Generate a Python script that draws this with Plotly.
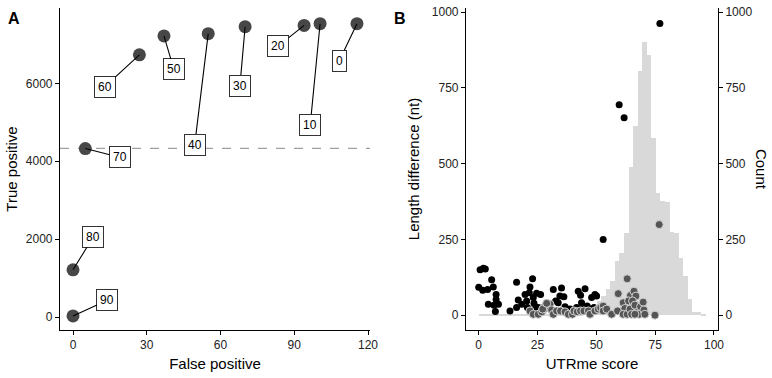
import plotly.graph_objects as go

# ---------------- Panel A data ----------------
thresholds = [90, 80, 70, 60, 50, 40, 30, 20, 10, 0]
false_pos = [0, 0, 5, 27, 37, 55, 70, 94, 100.5, 115.5]
true_pos = [30, 1215, 4326, 6731, 7215, 7274, 7452, 7485, 7529, 7529]
label_fp = [14, 8.3, 19.2, 13, 41, 49.5, 67.9, 83.5, 96.5, 108.3]
label_tp = [433, 2064, 4097, 5916, 6364, 4428, 5940, 6960, 4938, 6578]
reference_tp = 4330
a_xticks = [0, 30, 60, 90, 120]
a_yticks = [0, 2000, 4000, 6000]

# ---------------- Panel B data ----------------
hist_centers = [0.90, 2.83, 4.76, 6.70, 8.63, 10.56, 12.49, 14.42, 16.36, 18.29,
                20.22, 22.15, 24.08, 26.02, 27.95, 29.88, 31.81, 33.74, 35.68, 37.61,
                39.54, 41.47, 43.40, 45.34, 47.27, 49.20, 51.13, 53.07, 55.00, 56.93,
                58.86, 60.79, 62.73, 64.66, 66.59, 68.52, 70.45, 72.39, 74.32, 76.25,
                78.18, 80.11, 82.05, 83.98, 85.91, 87.84, 89.77, 91.71, 93.64, 95.57]
hist_counts = [4, 4, 3, 4, 3, 4, 3, 4, 4, 3,
               4, 4, 5, 4, 4, 5, 4, 5, 5, 5,
               6, 6, 6, 7, 8, 9, 46, 62, 88, 114,
               180, 205, 270, 489, 626, 807, 902, 860, 584, 404,
               378, 372, 274, 270, 189, 128, 52, 9, 9, 3]
hist_binwidth = 1.95

black_score = [0, 0.6, 2.0, 2.8, 1.7, 3.8, 6.2, 5.5, 7.4, 4.1, 6.5, 8.4, 7.1, 7.4,
               13.3, 16.1, 16.8, 16.1, 18.3, 19.7, 20.4, 21.5, 22.9, 21.8, 23.2, 20.7,
               24.6, 26.3, 23.5, 24.3, 22.1, 25.3, 27.0, 31.7, 32.7, 35.2, 34.5, 36.2,
               33.8, 36.7, 38.8, 42.3, 43.3, 45.2, 43.7, 41.6, 44.4, 46.1, 48.0, 49.4,
               50.1, 47.3, 49.0, 52.9, 59.7, 61.8, 77.0]
black_len = [92, 150, 155, 152, 82, 85, 93, 117, 68, 36, 33, 36, 12, 52,
             14, 109, 50, 25, 36, 68, 47, 74, 120, 93, 58, 25,
             72, 68, 39, 25, 17, 25, 24, 85, 47, 90, 63, 61,
             41, 28, 20, 79, 66, 87, 41, 25, 25, 30, 58, 68,
             63, 20, 25, 250, 695, 652, 963]

gray_score = [21.8, 23.2, 25.3, 26.8, 28.2, 29.2, 30.3, 31.0, 31.7, 33.1, 34.8, 36.7,
              38.1, 39.8, 40.5, 41.9, 43.3, 44.7, 46.6, 47.3, 49.4, 50.8, 51.8, 52.9,
              52.9, 54.4, 56.5, 59.3, 59.0, 61.4, 62.1, 63.1, 61.4, 63.1, 64.5, 63.7,
              64.3, 65.0, 66.0, 66.8, 65.4, 66.4, 67.4, 68.2, 68.8, 69.9, 70.2, 70.6,
              74.9, 76.7, 66.4, 27.2, 28.9]
gray_len = [14, 3, 3, 11, 22, 30, 36, 17, 3, 14, 14, 11,
            3, 3, 14, 11, 14, 14, 14, 3, 14, 20, 25, 30,
            14, 20, 3, 71, 14, 41, 22, 120, 3, 3, 65, 47,
            20, 3, 79, 63, 47, 33, 9, 3, 28, 43, 17, 3,
            0, 299, 3, 20, 39]
b_xticks = [0, 25, 50, 75, 100]
b_yticks = [0, 250, 500, 750, 1000]

FONT = "Liberation Sans, Arial, sans-serif"
TICKC = "#222222"

fig = go.Figure()

# Panel A points
fig.add_trace(go.Scatter(
    x=false_pos, y=true_pos, mode="markers",
    marker=dict(size=13, color="#474747"),
    xaxis="x", yaxis="y", showlegend=False, hoverinfo="skip"))

# Panel B histogram (base axis y2 = Count, right)
fig.add_trace(go.Bar(
    x=hist_centers, y=hist_counts, width=hist_binwidth,
    marker=dict(color="#d9d9d9", line=dict(width=0)),
    xaxis="x2", yaxis="y2", showlegend=False, hoverinfo="skip"))

# Panel B scatter (overlay axis y3 = Length difference, left)
fig.add_trace(go.Scatter(
    x=black_score, y=black_len, mode="markers",
    marker=dict(size=7, color="#000000"),
    xaxis="x2", yaxis="y3", showlegend=False, hoverinfo="skip"))
fig.add_trace(go.Scatter(
    x=gray_score, y=gray_len, mode="markers",
    marker=dict(size=8, color="#555555", line=dict(width=1, color="#d0d0d0")),
    xaxis="x2", yaxis="y3", showlegend=False, hoverinfo="skip"))

annotations = []
for t, fx, ty, lx, ly in zip(thresholds, false_pos, true_pos, label_fp, label_tp):
    annotations.append(dict(
        x=fx, y=ty, xref="x", yref="y", ax=lx, ay=ly, axref="x", ayref="y",
        text=str(t), showarrow=True, arrowhead=0, arrowwidth=1.1, arrowcolor="#000000",
        font=dict(family=FONT, size=12, color="#000000"),
        bgcolor="#ffffff", bordercolor="#333333", borderwidth=1, borderpad=3,
        standoff=0, startstandoff=0))

annotations += [
    dict(text="<b>A</b>", x=-0.07, y=1.0, xref="paper", yref="paper",
         xanchor="center", yanchor="top", showarrow=False,
         font=dict(family=FONT, size=16, color="#000000")),
    dict(text="<b>B</b>", x=0.517, y=1.0, xref="paper", yref="paper",
         xanchor="center", yanchor="top", showarrow=False,
         font=dict(family=FONT, size=16, color="#000000")),
    dict(text="Count", x=1.067, y=0.5, xref="paper", yref="paper",
         xanchor="center", yanchor="middle", showarrow=False, textangle=90,
         font=dict(family=FONT, size=15, color="#000000")),
]

axis_common = dict(showgrid=False, zeroline=False, showline=True, linecolor="#000000",
                   linewidth=1.1, ticks="outside", ticklen=4, tickwidth=1,
                   tickcolor="#000000", tickfont=dict(family=FONT, size=12, color=TICKC))

fig.update_layout(
    width=772, height=378,
    margin=dict(l=60, r=54, t=5, b=48),
    paper_bgcolor="#ffffff", plot_bgcolor="rgba(0,0,0,0)",
    font=dict(family=FONT, size=12, color="#000000"),
    bargap=0,
    xaxis=dict(domain=[0, 0.4711], range=[-5.3, 120.8], tickvals=a_xticks,
               anchor="y",
               title=dict(text="False positive", font=dict(family=FONT, size=15), standoff=7),
               **axis_common),
    yaxis=dict(domain=[0, 1], range=[-330, 7932], tickvals=a_yticks, anchor="x",
               title=dict(text="True positive", font=dict(family=FONT, size=15), standoff=4),
               **axis_common),
    xaxis2=dict(domain=[0.617, 1], range=[-5.4, 101.7], tickvals=b_xticks,
                anchor="y2",
                title=dict(text="UTRme score", font=dict(family=FONT, size=15), standoff=7),
                **axis_common),
    yaxis2=dict(domain=[0, 1], range=[-49, 1014], tickvals=b_yticks, anchor="x2",
                side="right", **axis_common),
    yaxis3=dict(range=[-49, 1014], tickvals=b_yticks, anchor="x2",
                overlaying="y2", side="left",
                title=dict(text="Length difference (nt)", font=dict(family=FONT, size=15), standoff=8),
                **axis_common),
    annotations=annotations,
    shapes=[dict(type="line", xref="x domain", yref="y", x0=0, x1=1,
                 y0=reference_tp, y1=reference_tp,
                 line=dict(color="#a0a0a0", width=1.1, dash="dash"), layer="below")],
)

fig.write_html("out.html", config={"displayModeBar": False},
               post_script="document.body.style.margin='0';document.body.style.padding='0';")
